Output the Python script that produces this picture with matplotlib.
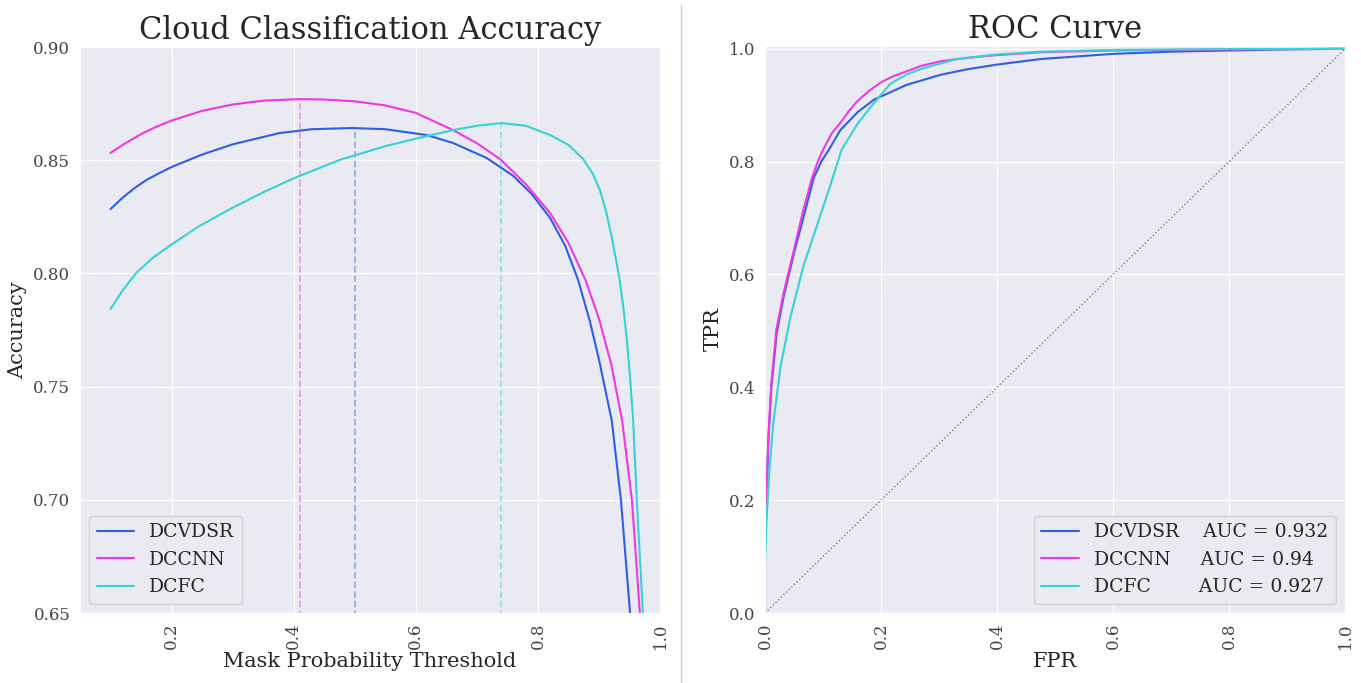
import numpy as np
import matplotlib.pyplot as plt
import matplotlib.lines as mlines
import seaborn as sns

sns.set_style("darkgrid")
plt.rcParams['font.family'] = ['DejaVu Serif']

# model names and colours
models = ["DCVDSR", "DCCNN", "DCFC"]
colors = ["#2f5de6", "#ee38e6", "#35d2d8"]
auc = ["0.932", "0.94", "0.927"]

# accuracy vs mask probability threshold
t_dcvdsr = [0.10, 0.12, 0.14, 0.159, 0.18, 0.20, 0.25, 0.30, 0.377, 0.43, 0.495, 0.55, 0.618, 0.661, 0.716, 0.76, 0.79, 0.82,
            0.845, 0.866, 0.885, 0.90, 0.921, 0.936, 0.951, 0.96]
acc_dcvdsr = [0.8284, 0.8335, 0.8378, 0.8413, 0.8443, 0.8470, 0.8525, 0.8570, 0.8620, 0.8637, 0.8642, 0.8637, 0.8611, 0.8576,
              0.8510, 0.8430, 0.8350, 0.8245, 0.812, 0.797, 0.779, 0.762, 0.735, 0.700, 0.650, 0.610]

t_dccnn = [0.10, 0.12, 0.15, 0.175, 0.20, 0.25, 0.30, 0.35, 0.41, 0.45, 0.50, 0.55, 0.60, 0.661, 0.70, 0.738, 0.78, 0.82,
           0.85, 0.878, 0.90, 0.92, 0.938, 0.954, 0.967, 0.975]
acc_dccnn = [0.8532, 0.8568, 0.8615, 0.8648, 0.8675, 0.8718, 0.8746, 0.8763, 0.8770, 0.8768, 0.8760, 0.8742, 0.8709, 0.8633,
             0.8575, 0.8505, 0.8395, 0.8267, 0.8135, 0.797, 0.780, 0.760, 0.735, 0.700, 0.650, 0.610]

t_dcfc = [0.10, 0.12, 0.143, 0.17, 0.20, 0.246, 0.30, 0.35, 0.40, 0.475, 0.55, 0.60, 0.661, 0.70, 0.74, 0.78, 0.82, 0.85,
          0.874, 0.89, 0.902, 0.912, 0.921, 0.928, 0.934, 0.94, 0.946, 0.951, 0.956, 0.962, 0.972, 0.98]
acc_dcfc = [0.7843, 0.7925, 0.8005, 0.8070, 0.8128, 0.8210, 0.8290, 0.8358, 0.8420, 0.8501, 0.8562, 0.8595, 0.8633, 0.8652,
            0.8664, 0.8652, 0.8611, 0.8568, 0.8505, 0.8440, 0.8365, 0.8270, 0.8160, 0.806, 0.797, 0.785, 0.770, 0.754,
            0.735, 0.700, 0.650, 0.600]

best_t = [0.50, 0.41, 0.74]
best_acc = [0.8642, 0.8770, 0.8664]

# ROC curves
fpr_dcvdsr = [0.0, 0.0, 0.003, 0.006, 0.011, 0.02, 0.032, 0.05, 0.068, 0.084, 0.097, 0.11, 0.13, 0.16, 0.188, 0.244, 0.303,
              0.35, 0.4, 0.476, 0.6, 0.7, 0.8, 0.9, 1.0]
tpr_dcvdsr = [0.0, 0.12, 0.225, 0.31, 0.40, 0.495, 0.56, 0.638, 0.708, 0.771, 0.80, 0.821, 0.856, 0.888, 0.910, 0.936, 0.954,
              0.964, 0.972, 0.982, 0.991, 0.995, 0.997, 0.999, 1.0]

fpr_dccnn = [0.0, 0.0, 0.003, 0.006, 0.011, 0.0196, 0.032, 0.05, 0.066, 0.081, 0.091, 0.10, 0.115, 0.13, 0.145, 0.159, 0.18,
             0.199, 0.22, 0.244, 0.27, 0.303, 0.35, 0.389, 0.476, 0.6, 0.8, 1.0]
tpr_dccnn = [0.0, 0.124, 0.23, 0.315, 0.408, 0.502, 0.567, 0.644, 0.714, 0.771, 0.80, 0.821, 0.85, 0.869, 0.89, 0.907, 0.926,
             0.940, 0.951, 0.960, 0.970, 0.978, 0.984, 0.988, 0.994, 0.997, 0.999, 1.0]

fpr_dcfc = [0.0, 0.0, 0.003, 0.008, 0.0144, 0.0268, 0.044, 0.066, 0.089, 0.112, 0.132, 0.16, 0.188, 0.216, 0.245, 0.274,
            0.331, 0.4, 0.476, 0.6, 0.8, 1.0]
tpr_dcfc = [0.0, 0.09, 0.171, 0.26, 0.337, 0.437, 0.525, 0.614, 0.685, 0.756, 0.821, 0.868, 0.904, 0.938, 0.955, 0.966,
            0.982, 0.990, 0.995, 0.998, 0.9995, 1.0]

acc_t = [t_dcvdsr, t_dccnn, t_dcfc]
acc_v = [acc_dcvdsr, acc_dccnn, acc_dcfc]
roc_x = [fpr_dcvdsr, fpr_dccnn, fpr_dcfc]
roc_y = [tpr_dcvdsr, tpr_dccnn, tpr_dcfc]
roc_labels = ["DCVDSR    AUC = " + auc[0],
              "DCCNN     AUC = " + auc[1],
              "DCFC        AUC = " + auc[2]]

fig = plt.figure(figsize=(13.61, 6.83), dpi=100)
ax1 = fig.add_axes([80 / 1361, 70 / 683, 580 / 1361, 566 / 683])
ax2 = fig.add_axes([765 / 1361, 70 / 683, 580 / 1361, 567 / 683])

# accuracy plot
for i in range(3):
    ax1.plot(acc_t[i], acc_v[i], color=colors[i], lw=1.5, label=models[i])
    ax1.vlines(best_t[i], 0.6, best_acc[i], colors=colors[i], linestyles="--", lw=1.3, alpha=0.45)
ax1.set_xlim(0.05, 1.0)
ax1.set_ylim(0.65, 0.90)
ax1.set_yticks(np.arange(0.65, 0.901, 0.05))
ax1.set_yticklabels(["%.2f" % v for v in np.arange(0.65, 0.901, 0.05)])
ax1.set_xticks([0.2, 0.4, 0.6, 0.8, 1.0])
ax1.tick_params(axis="x", labelrotation=90)
ax1.tick_params(labelsize=12, colors="#444444")
ax1.set_title("Cloud Classification Accuracy", fontsize=22)
ax1.set_xlabel("Mask Probability Threshold", fontsize=15, labelpad=2)
ax1.set_ylabel("Accuracy", fontsize=15, labelpad=4)
ax1.legend(loc="lower left", fontsize=13.5)

# ROC plot
for i in range(3):
    ax2.plot(roc_x[i], roc_y[i], color=colors[i], lw=1.5, label=roc_labels[i])
ax2.plot([0, 1], [0, 1], color="gray", ls=":", lw=1)
ax2.set_xlim(0, 1.0)
ax2.set_ylim(0, 1.005)
ax2.set_xticks([0.0, 0.2, 0.4, 0.6, 0.8, 1.0])
ax2.set_yticks([0.0, 0.2, 0.4, 0.6, 0.8, 1.0])
ax2.tick_params(axis="x", labelrotation=90)
ax2.tick_params(labelsize=12, colors="#444444")
ax2.set_title("ROC Curve", fontsize=22)
ax2.set_xlabel("FPR", fontsize=15, labelpad=2)
ax2.set_ylabel("TPR", fontsize=15, labelpad=4)
ax2.legend(loc="lower right", fontsize=13.5)

# separator between the panels
fig.add_artist(mlines.Line2D([681 / 1361, 681 / 1361], [0, 678 / 683], color="#cccccc", lw=1))

fig.savefig("out.png", dpi=100)
